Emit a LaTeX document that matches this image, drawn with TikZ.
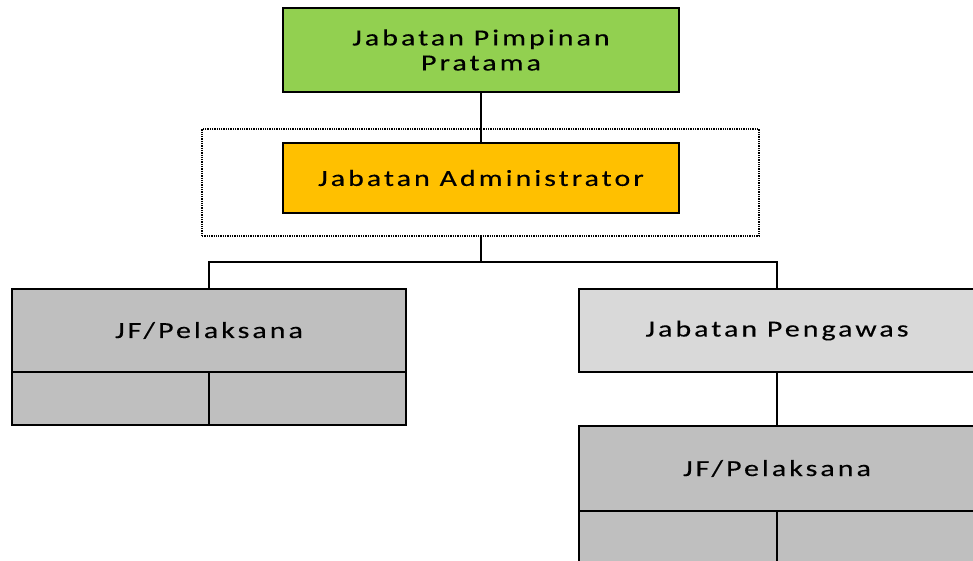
\documentclass[tikz,border=0pt]{standalone}
\usepackage{fontspec}
\setmainfont{Carlito}[LetterSpace=13.3,FakeStretch=1.3,FakeBold=0.3]
\begin{document}
\begin{tikzpicture}[x=1pt,y=-1pt,
  box/.style={draw=black,line width=1.8pt,inner sep=0pt,outer sep=0pt,font=\fontsize{23}{25}\selectfont,align=center},
  link/.style={draw=black,line width=1.8pt}]
\definecolor{topgreen}{HTML}{92D050}
\definecolor{adminorange}{HTML}{FFC000}
\definecolor{staffgray}{HTML}{BFBFBF}
\definecolor{supgray}{HTML}{D9D9D9}
\useasboundingbox (0,0) rectangle (973,561);
\clip (0,0) rectangle (973,561);
% top level
\node[box,fill=topgreen,minimum width=396pt,minimum height=84pt] (ppt) at (481,50) {Jabatan Pimpinan\\Pratama};
% administrator inside dotted frame
\node[draw=black,densely dotted,line width=1.3pt,outer sep=0pt,minimum width=557pt,minimum height=107pt] (frame) at (480.5,182.5) {};
\node[box,fill=adminorange,minimum width=396pt,minimum height=70pt] (adm) at (481,178) {Jabatan Administrator};
% left staff group
\node[box,fill=staffgray,minimum width=394pt,minimum height=83pt] (jfl) at (209,330.5) {JF/Pelaksana};
\node[box,fill=staffgray,minimum width=197pt,minimum height=53pt,anchor=north east] (jfla) at (jfl.south) {};
\node[box,fill=staffgray,minimum width=197pt,minimum height=53pt,anchor=north west] (jflb) at (jfl.south) {};
% right supervisor group
\node[box,fill=supgray,minimum width=396pt,minimum height=83pt] (peng) at (777,330.5) {Jabatan Pengawas};
\node[box,fill=staffgray,minimum width=396pt,minimum height=85pt] (jfr) at (777,468.5) {JF/Pelaksana};
\node[box,fill=staffgray,minimum width=198pt,minimum height=60pt,anchor=north east] (jfra) at (jfr.south) {};
\node[box,fill=staffgray,minimum width=198pt,minimum height=60pt,anchor=north west] (jfrb) at (jfr.south) {};
% connectors
\coordinate (bus) at (481,262);
\draw[link] (ppt.south) -- (adm.north);
\draw[link] (adm |- frame.south) -- (bus);
\draw[link] (jfl.north) |- (bus) -| (peng.north);
\draw[link] (peng.south) -- (jfr.north);
\end{tikzpicture}
\end{document}
